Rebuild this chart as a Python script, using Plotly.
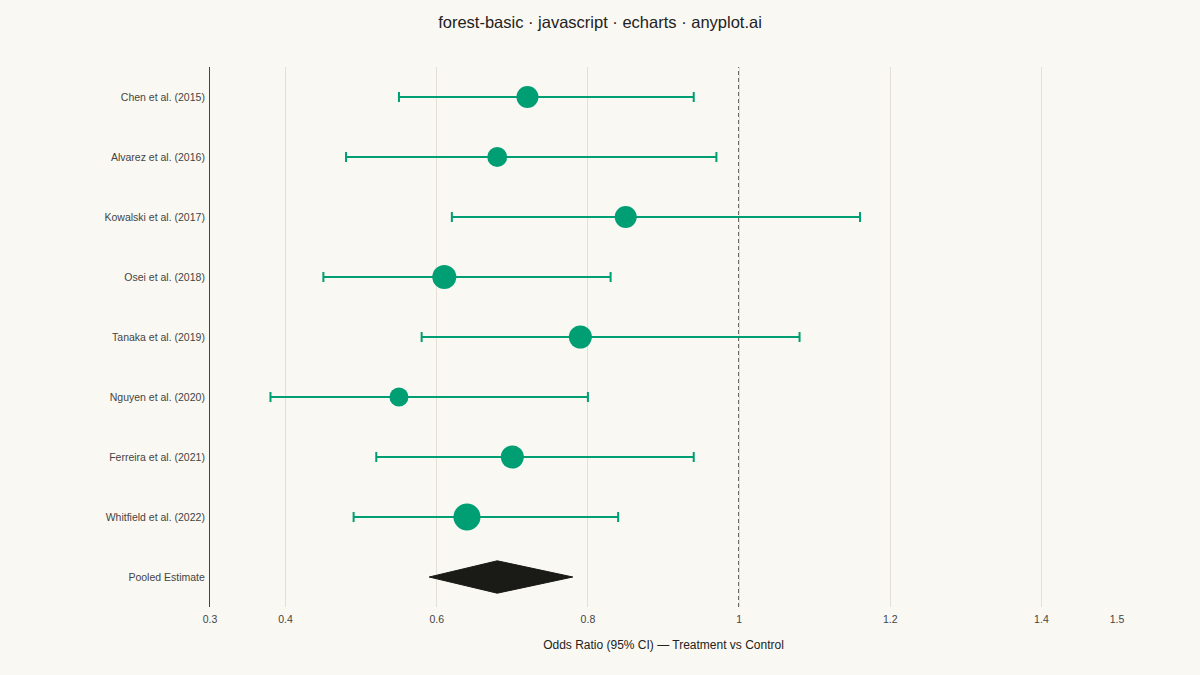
import plotly.graph_objects as go

# study data (odds ratios with 95% CI), weights in percent
studies = ["Chen et al. (2015)", "Alvarez et al. (2016)", "Kowalski et al. (2017)",
           "Osei et al. (2018)", "Tanaka et al. (2019)", "Nguyen et al. (2020)",
           "Ferreira et al. (2021)", "Whitfield et al. (2022)"]
odds_ratio = [0.72, 0.68, 0.85, 0.61, 0.79, 0.55, 0.70, 0.64]
ci_lower = [0.55, 0.48, 0.62, 0.45, 0.58, 0.38, 0.52, 0.49]
ci_upper = [0.94, 0.97, 1.16, 0.83, 1.08, 0.80, 0.94, 0.84]
weights = [12, 10, 12, 14, 13, 9, 13, 17]

pooled_label = "Pooled Estimate"
pooled_or = 0.68
pooled_lower = 0.59
pooled_upper = 0.78

x_ticks = [0.3, 0.4, 0.6, 0.8, 1, 1.2, 1.4, 1.5]

GREEN = "#009E73"
BG = "#FAF8F2"
FONT = "Liberation Sans, Arial, sans-serif"

labels = studies + [pooled_label]
ypos = list(range(len(labels)))
pooled_y = ypos[-1]

fig = go.Figure()

# reference line at OR = 1
fig.add_shape(type="line", x0=1, x1=1, y0=0, y1=1, xref="x", yref="paper",
              line=dict(color="#4A4A4A", width=1.8, dash="4px,3px"), layer="below")

fig.add_trace(go.Scatter(
    x=odds_ratio, y=ypos[:-1], mode="markers",
    marker=dict(color=GREEN, size=[10 + w for w in weights], opacity=1, line=dict(width=0)),
    error_x=dict(type="data", symmetric=False,
                 array=[u - o for u, o in zip(ci_upper, odds_ratio)],
                 arrayminus=[o - l for o, l in zip(odds_ratio, ci_lower)],
                 color=GREEN, thickness=2, width=5),
    hovertemplate="%{x}<extra></extra>", showlegend=False,
))

# pooled diamond
half_h = 0.27
fig.add_trace(go.Scatter(
    x=[pooled_lower, pooled_or, pooled_upper, pooled_or, pooled_lower],
    y=[pooled_y, pooled_y - half_h, pooled_y, pooled_y + half_h, pooled_y],
    mode="lines", fill="toself", fillcolor="#1A1A16",
    line=dict(color="#1A1A16", width=1), showlegend=False, hoverinfo="skip",
))

fig.update_layout(
    width=1200, height=675,
    paper_bgcolor=BG, plot_bgcolor=BG,
    font=dict(family=FONT, color="#333333"),
    title=dict(text="forest-basic · javascript · echarts · anyplot.ai",
               x=0.5, xanchor="center", y=0.967, yanchor="middle",
               font=dict(size=16.5, color="#222222")),
    margin=dict(l=210, r=83, t=67, b=68),
    xaxis=dict(range=[0.3, 1.5], tickvals=x_ticks, ticktext=[str(t) for t in x_ticks],
               showgrid=True, gridcolor="#E3E0D8", gridwidth=1, zeroline=False,
               showline=False, ticks="", ticklabelstandoff=4,
               tickfont=dict(size=10.5, color="#444444"),
               title=dict(text="Odds Ratio (95% CI) — Treatment vs Control",
                          font=dict(size=12, color="#222222"), standoff=17)),
    yaxis=dict(range=[len(labels) - 0.5, -0.5], tickvals=ypos, ticktext=labels,
               showgrid=False, zeroline=False, showline=True, linecolor="#444444",
               linewidth=1, ticks="", ticklabelstandoff=2,
               tickfont=dict(size=10.5, color="#444444")),
)

fig.write_html("out.html", config={"displayModeBar": False},
               post_script="document.body.style.margin='0';")
